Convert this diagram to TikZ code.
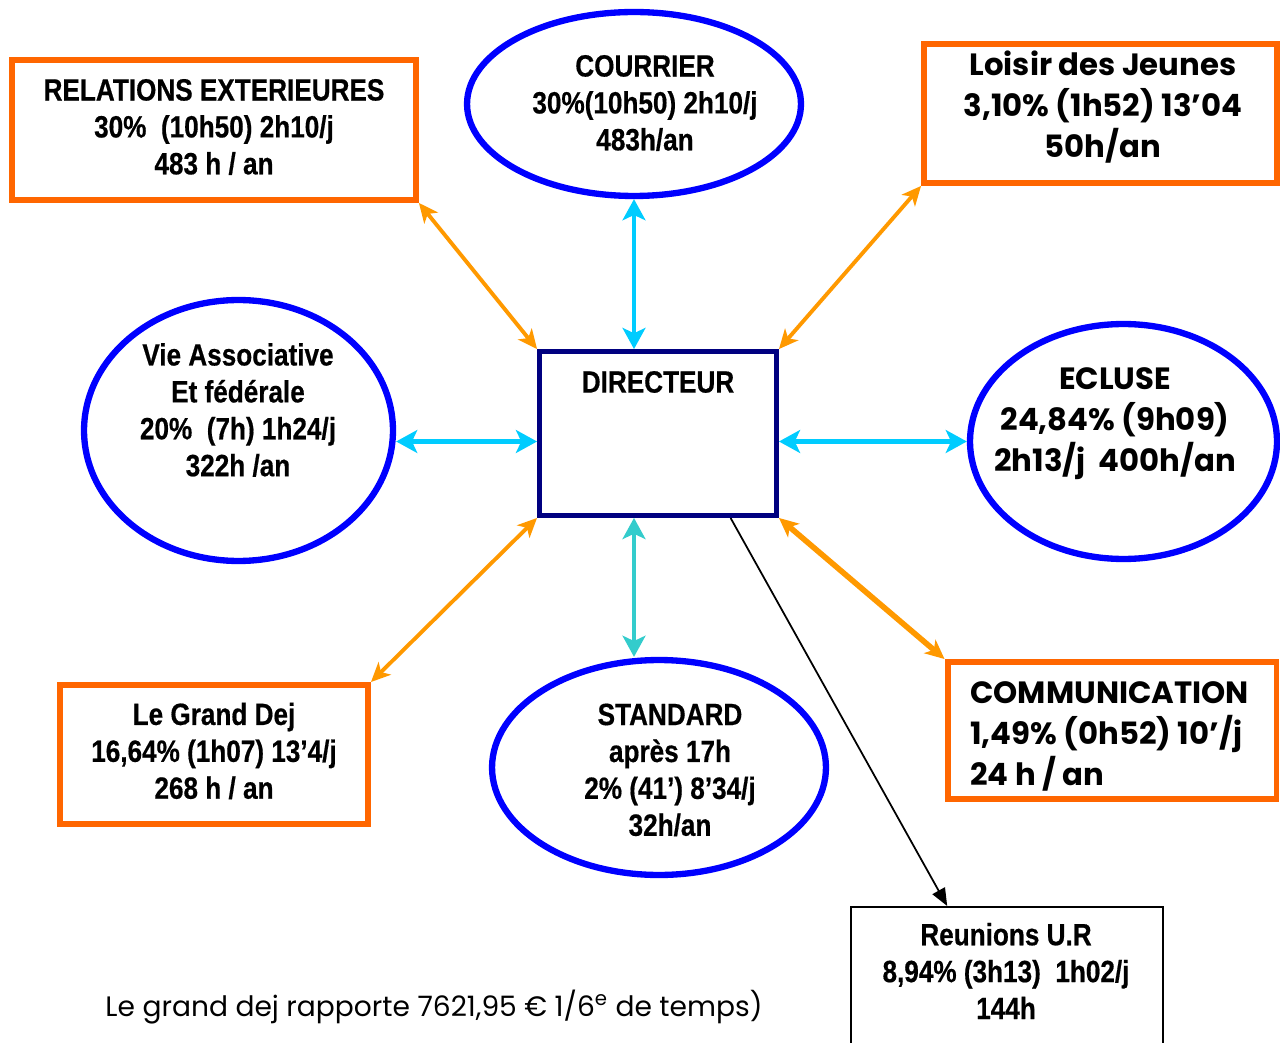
\documentclass[tikz,border=0pt]{standalone}
\usepackage{fontspec}
\setmainfont{Liberation Sans}
\newfontfamily\narrowf[FakeStretch=0.85,FakeBold=0.5]{Liberation Sans}
\newfontfamily\comicf{Poppins}
\usetikzlibrary{shapes.geometric,arrows.meta,calc}
\definecolor{boxorange}{HTML}{FF6600}
\definecolor{arrorange}{HTML}{FF9900}
\definecolor{ellblue}{HTML}{0000FF}
\definecolor{navy}{HTML}{000080}
\definecolor{skyc}{HTML}{00CCFF}
\definecolor{tealc}{HTML}{33CCCC}
\tikzset{
  obox/.style={rectangle, draw=boxorange, line width=3.4pt, inner sep=0pt},
  ell/.style={ellipse, draw=ellblue, line width=3.6pt, inner sep=0pt},
  ntxt/.style={font=\narrowf\bfseries\fontsize{17.5}{21}\selectfont, align=center, inner sep=0pt},
  ctxt/.style={font=\comicf\bfseries\fontsize{17.5}{23.3}\selectfont, align=center, inner sep=0pt},
  orarrow/.style={draw=arrorange, line width=2.2pt, {Stealth[length=11pt,width=10pt,inset=3pt]}-{Stealth[length=11pt,width=10pt,inset=3pt]}},
  cyarrow/.style={draw=skyc, line width=2.8pt, {Stealth[length=12pt,width=13pt,inset=3pt]}-{Stealth[length=12pt,width=13pt,inset=3pt]}},
}
\begin{document}
\begin{tikzpicture}[x=0.02cm,y=-0.02cm]
\clip (0,0) rectangle (1280,1043);
\fill[white] (0,0) rectangle (1280,1043);

% boxes
\node[obox, minimum width=8.08cm, minimum height=2.8cm] (rel) at (214,130) {};
\node[ntxt] (reltxt) at (214,127) {RELATIONS EXTERIEURES\\30\%\ \ (10h50) 2h10/j\\483 h / an};

\node[obox, minimum width=7.06cm, minimum height=2.78cm] (loi) at (1100.5,113.5) {};
\node[ctxt] (loitxt) at (1103,107) {Loisir des Jeunes\\3,10\% (1h52) 13’04\\50h/an};

\node[obox, minimum width=6.16cm, minimum height=2.78cm] (gdej) at (214,754.5) {};
\node[ntxt] (gdejtxt) at (214,751) {Le Grand Dej\\16,64\% (1h07) 13’4/j\\268 h / an};

\node[obox, minimum width=6.58cm, minimum height=2.74cm] (comm) at (1112,730.5) {};
\node[ctxt, align=left, anchor=west] (commtxt) at (970,736) {COMMUNICATION\\1,49\% (0h52) 10’/j\\24 h / an};

\node[rectangle, draw=navy, line width=2.8pt, minimum width=4.74cm, minimum height=3.28cm, inner sep=0pt] (dir) at (658,433.5) {};
\node[ntxt] (dirtxt) at (658,382) {DIRECTEUR};

\node[rectangle, draw=black, line width=0.9pt, minimum width=6.24cm, minimum height=4cm, anchor=north west] (reu) at (850,906) {};
\node[ntxt] (reutxt) at (1006,971) {Reunions U.R\\8,94\% (3h13)\ \ 1h02/j\\144h};

% ellipses
\node[ell, minimum width=6.68cm, minimum height=3.68cm] (cour) at (634,104) {};
\node[ntxt] (courtxt) at (645,103) {COURRIER\\30\%(10h50) 2h10/j\\483h/an};

\node[ell, minimum width=6.18cm, minimum height=5.22cm] (vie) at (238.5,430.5) {};
\node[ntxt] (vietxt) at (238,410) {Vie Associative\\Et fédérale\\20\%\ \ (7h) 1h24/j\\322h /an};

\node[ell, minimum width=6.14cm, minimum height=4.7cm] (ecl) at (1123.5,441.5) {};
\node[ctxt] (ecltxt) at (1115,424) {ECLUSE\\24,84\% (9h09)\\2h13/j\ \ 400h/an};

\node[ell, minimum width=6.68cm, minimum height=4.3cm] (std) at (659,767.5) {};
\node[ntxt] (stdtxt) at (670,770) {STANDARD\\après 17h\\2\% (41’) 8’34/j\\32h/an};

% footnote
\node[font=\comicf\fontsize{16}{19}\selectfont, inner sep=0pt] (note) at (434,1007) {Le grand dej rapporte 7621,95 € 1/6\textsuperscript{e} de temps)};

% connectors
\draw[orarrow] (rel.south east) -- (dir.north west);
\draw[cyarrow] (cour.south) -- (cour.south |- dir.north);
\draw[orarrow] (loi.south west) -- (dir.north east);
\draw[cyarrow] (vie.east |- ecl.west) -- (dir.west |- ecl.west);
\draw[cyarrow] (dir.east |- ecl.west) -- (ecl.west);
\draw[orarrow] (gdej.north east) -- (dir.south west);
\draw[cyarrow, draw=tealc] (cour.south |- dir.south) -- (cour.south |- std.north);
\draw[orarrow, line width=3.2pt] (dir.south east) -- (comm.north west);
\draw[line width=1pt, -{Triangle[length=10pt,width=8pt]}] ($(dir.south west)!0.8!(dir.south east)$) -- ($(reu.north west)!0.31!(reu.north east)$);
\end{tikzpicture}
\end{document}
